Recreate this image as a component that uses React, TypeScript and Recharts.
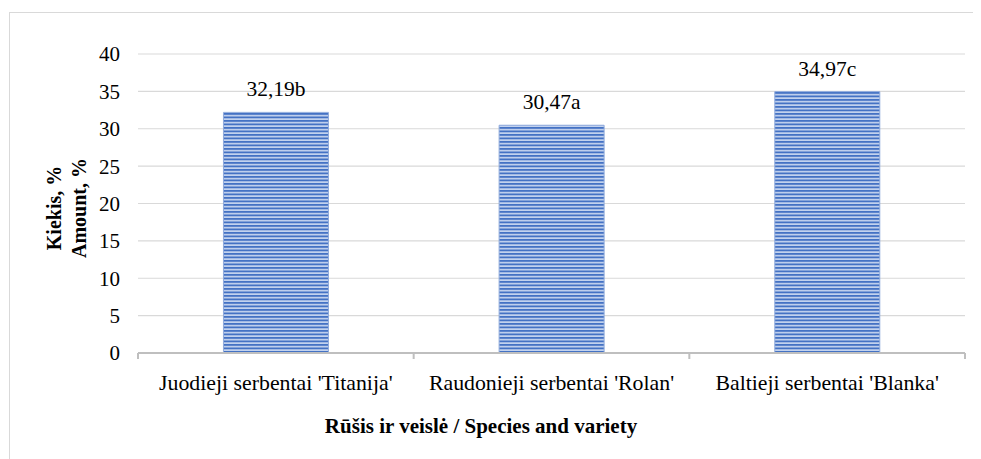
import React from 'react';
import { BarChart, Bar, XAxis, YAxis, CartesianGrid, LabelList, Label } from 'recharts';

const categories = ["Juodieji serbentai 'Titanija'", "Raudonieji serbentai 'Rolan'", "Baltieji serbentai 'Blanka'"];
const values = [32.19, 30.47, 34.97];
const letters = ['b', 'a', 'c'];
const yTicks = [0, 5, 10, 15, 20, 25, 30, 35, 40];

const data = categories.map((c, i) => ({
  name: c,
  value: values[i],
  label: values[i].toFixed(2).replace('.', ',') + letters[i],
}));

const FONT = 'Liberation Serif';

const XTick = (props: any) => {
  const { x, y, payload, index, visibleTicksCount } = props;
  const half = payload && payload.offset ? payload.offset : 827 / 3 / 2;
  const axisY = y - 8;
  return (
    <g>
      <line x1={x - half} x2={x - half} y1={axisY} y2={axisY + 6} stroke="#bfbfbf" strokeWidth={2} />
      {index === visibleTicksCount - 1 && (
        <line x1={x + half} x2={x + half} y1={axisY} y2={axisY + 6} stroke="#bfbfbf" strokeWidth={2} />
      )}
      <text x={x} y={y + 29} textAnchor="middle" fontFamily={FONT} fontSize={21.8} fill="#000">
        {payload.value}
      </text>
    </g>
  );
};

const YTitle = () => {
  const cx = 58;
  const cy = 200;
  return (
    <g>
      <text x={cx - 12} y={cy} transform={`rotate(-90 ${cx - 12} ${cy})`} textAnchor="middle" dominantBaseline="central" fontFamily={FONT} fontWeight="bold" fontSize={20} fill="#000">
        Kiekis, %
      </text>
      <text x={cx + 13} y={cy} transform={`rotate(-90 ${cx + 13} ${cy})`} textAnchor="middle" dominantBaseline="central" fontFamily={FONT} fontWeight="bold" fontSize={20} fill="#000">
        Amount, %
      </text>
    </g>
  );
};

export default function App() {
  return (
    <div style={{ position: 'relative', width: 973, height: 451 }}>
      <div style={{ position: 'absolute', left: 1, top: 4, width: 972, height: 447, borderTop: '1.5px solid #d9d9d9', borderLeft: '1.5px solid #d9d9d9', boxSizing: 'border-box' }} />
      <div style={{ position: 'absolute', left: 0, top: 0 }}>
        <BarChart width={973} height={451} data={data} margin={{ top: 46, right: 16, left: 0, bottom: 0 }} barCategoryGap="31%">
          <defs>
            <pattern id="stripes" patternUnits="userSpaceOnUse" width={8} height={3.5}>
              <rect x={0} y={0} width={8} height={3.5} fill="#c3d2ee" />
              <rect x={0} y={0} width={8} height={1.8} fill="#4472c4" />
            </pattern>
          </defs>
          <CartesianGrid vertical={false} stroke="#d9d9d9" strokeWidth={1.2} />
          <XAxis dataKey="name" height={106} axisLine={{ stroke: '#bfbfbf', strokeWidth: 2 }} tickLine={false} tick={<XTick />} interval={0} />
          <YAxis width={130} domain={[0, 40]} ticks={yTicks} axisLine={false} tickLine={false} tickMargin={12} tick={{ fontFamily: FONT, fontSize: 21, fill: '#000' }}>
            <Label content={<YTitle />} />
          </YAxis>
          <Bar dataKey="value" fill="url(#stripes)" stroke="#8faadc" strokeWidth={1} isAnimationActive={false}>
            <LabelList dataKey="label" position="top" offset={16} style={{ fontFamily: FONT, fontSize: 21.5, fill: '#000' }} />
          </Bar>
        </BarChart>
        <div style={{ position: 'absolute', left: 473, top: 418, transform: 'translate(-50%, -50%)', fontFamily: FONT, fontWeight: 'bold', fontSize: 21, whiteSpace: 'nowrap', color: '#000' }}>
          Rūšis ir veislė / Species and variety
        </div>
      </div>
    </div>
  );
}
